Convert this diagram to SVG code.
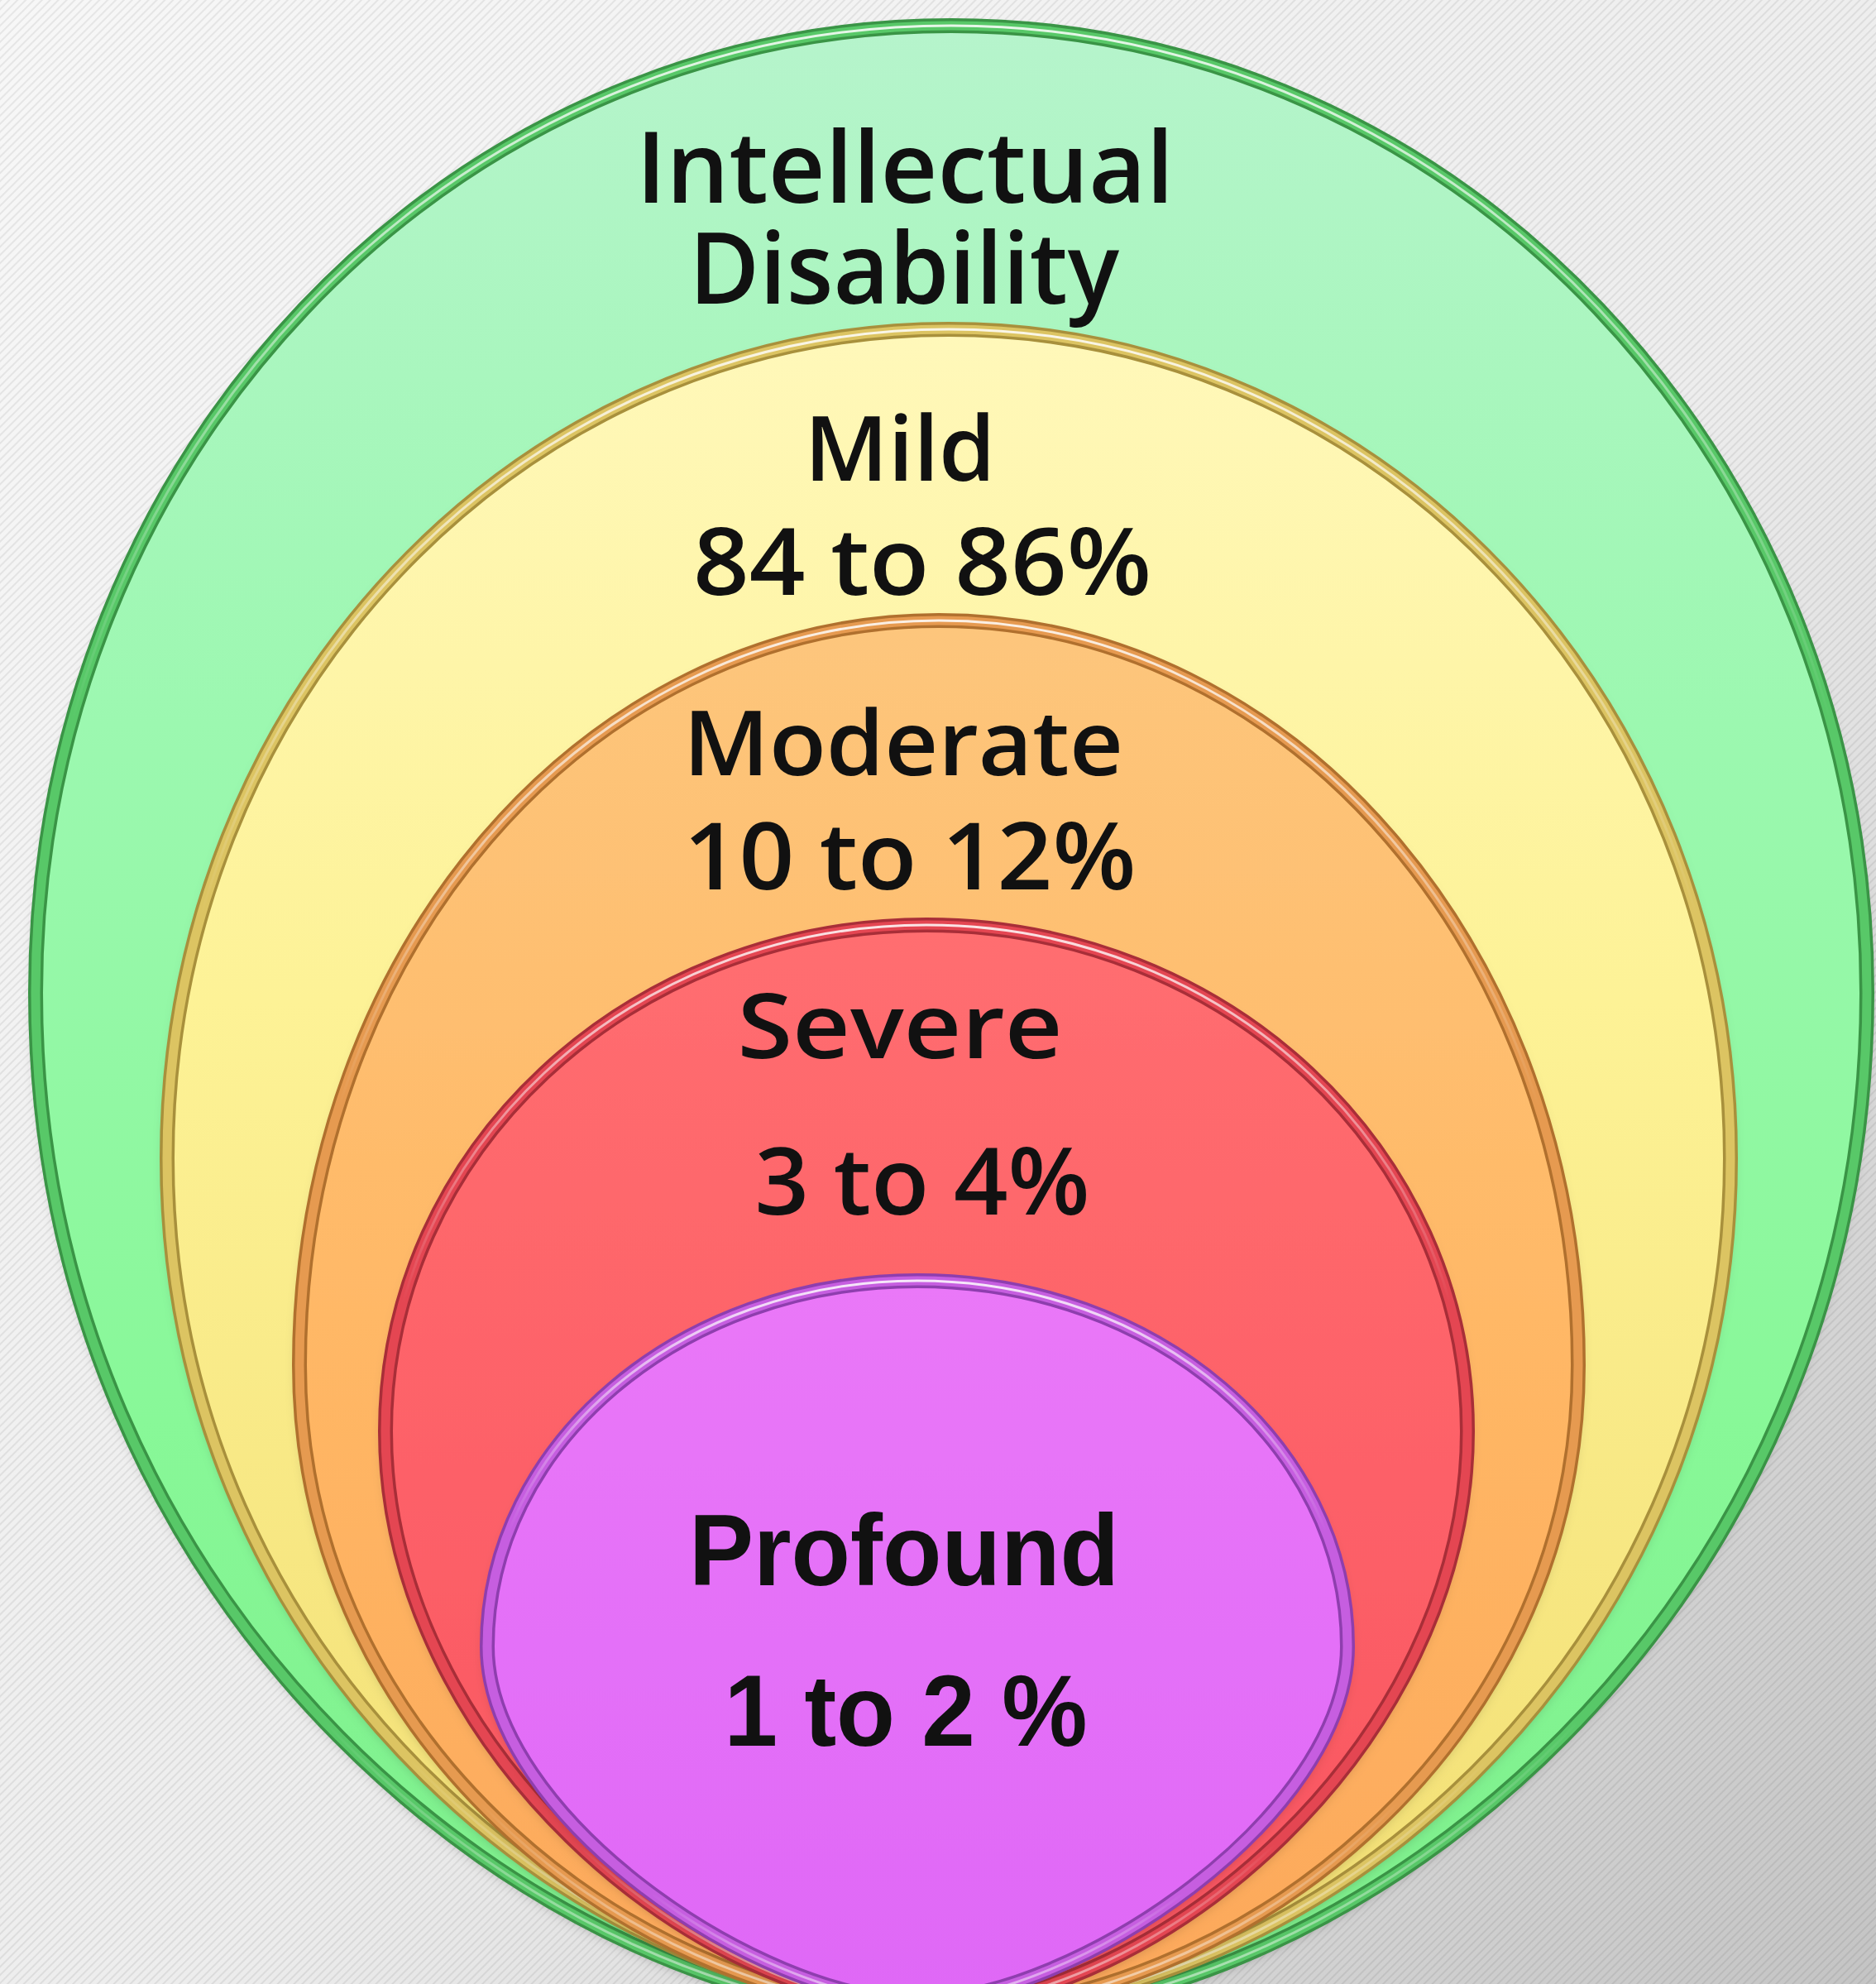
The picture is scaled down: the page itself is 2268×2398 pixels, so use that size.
<svg xmlns="http://www.w3.org/2000/svg" width="2268" height="2398" viewBox="0 0 2268 2398">
  <defs>
    <linearGradient id="bg" x1="0" y1="0" x2="1" y2="1">
      <stop offset="0" stop-color="#f7f7f7"/>
      <stop offset="0.55" stop-color="#ededed"/>
      <stop offset="1" stop-color="#c4c4c4"/>
    </linearGradient>
    <pattern id="stripes" patternUnits="userSpaceOnUse" width="7" height="7" patternTransform="rotate(45)">
      <line x1="1" y1="0" x2="1" y2="7" stroke="#000" stroke-opacity="0.07" stroke-width="2"/>
    </pattern>
    <linearGradient id="gGreen" x1="0" y1="0" x2="0" y2="1">
      <stop offset="0" stop-color="#b6f4cc"/>
      <stop offset="0.35" stop-color="#9cf8b0"/>
      <stop offset="0.7" stop-color="#88f898"/>
      <stop offset="1" stop-color="#7cee8a"/>
    </linearGradient>
    <linearGradient id="gYellow" x1="0" y1="0" x2="0" y2="1">
      <stop offset="0" stop-color="#fff8ba"/>
      <stop offset="0.4" stop-color="#fdf296"/>
      <stop offset="1" stop-color="#f2de72"/>
    </linearGradient>
    <linearGradient id="gOrange" x1="0" y1="0" x2="0" y2="1">
      <stop offset="0" stop-color="#fdc67c"/>
      <stop offset="0.5" stop-color="#ffb866"/>
      <stop offset="1" stop-color="#fca85a"/>
    </linearGradient>
    <linearGradient id="gRed" x1="0" y1="0" x2="0" y2="1">
      <stop offset="0" stop-color="#ff6e70"/>
      <stop offset="0.5" stop-color="#fd6168"/>
      <stop offset="1" stop-color="#f85460"/>
    </linearGradient>
    <linearGradient id="gPurple" x1="0" y1="0" x2="0" y2="1">
      <stop offset="0" stop-color="#ea78f8"/>
      <stop offset="0.5" stop-color="#e470f8"/>
      <stop offset="1" stop-color="#df68f6"/>
    </linearGradient>
    <linearGradient id="hl" x1="0" y1="0" x2="0" y2="1">
      <stop offset="0" stop-color="#ffffff" stop-opacity="0.85"/>
      <stop offset="0.35" stop-color="#ffffff" stop-opacity="0"/>
      <stop offset="0.85" stop-color="#ffffff" stop-opacity="0"/>
      <stop offset="1" stop-color="#ffffff" stop-opacity="0.6"/>
    </linearGradient>
    <filter id="shadow" x="-5%" y="-5%" width="110%" height="115%">
      <feDropShadow dx="0" dy="6" stdDeviation="8" flood-color="#000" flood-opacity="0.3"/>
    </filter>
    <path id="pGreen" d="M1150,31 C1761,31 2257,554 2257,1200 C2257,1944 1648,2440 1150,2440 C652,2440 43,1944 43,1200 C43,554 539,31 1150,31Z"/>
    <path id="pYellow" d="M1147,398 C1669,398 2092,847 2092,1400 C2092,2018 1572,2430 1147,2430 C722,2430 202,2018 202,1400 C202,847 625,398 1147,398Z"/>
    <path id="pOrange" d="M1135,750 C1562,750 1908,1153 1908,1650 C1908,2118 1483,2430 1135,2430 C787,2430 362,2118 362,1650 C362,1153 708,750 1135,750Z"/>
    <path id="pRed" d="M1120,1118 C1481,1118 1774,1392 1774,1730 C1774,2112 1395,2425 1120,2425 C845,2425 466,2112 466,1730 C466,1392 759,1118 1120,1118Z"/>
    <path id="pPurple" d="M1109,1548 C1396,1548 1629,1746 1629,1990 C1629,2195 1300,2418 1109,2418 C918,2418 589,2195 589,1990 C589,1746 822,1548 1109,1548Z"/>
  </defs>
  <style>
    .lbl { font-family: "Open Sans", "DejaVu Sans", sans-serif; font-weight: 600; fill: #111; text-anchor: middle; }
    .lbl2 { font-family: "Liberation Sans", Arial, sans-serif; font-weight: 700; fill: #111; text-anchor: middle; }
    .edgeDark { fill: none; stroke-width: 18; }
    .edgeMid { fill: none; stroke-width: 11; }
    .edgeHl { fill: none; stroke: url(#hl); stroke-width: 3; }
  </style>

  <g id="background">
    <rect x="0" y="0" width="2268" height="2398" fill="url(#bg)"/>
    <rect x="0" y="0" width="2268" height="2398" fill="url(#stripes)"/>
  </g>

  <g id="node-intellectual-disability">
    <g filter="url(#shadow)">
      <use href="#pGreen" fill="url(#gGreen)"/>
    </g>
    <use href="#pGreen" class="edgeDark" stroke="#3a9446"/>
    <use href="#pGreen" class="edgeMid" stroke="#58c868"/>
    <use href="#pGreen" class="edgeHl"/>
    <text class="lbl" x="1094" y="245" font-size="120" textLength="650" lengthAdjust="spacingAndGlyphs">Intellectual</text>
    <text class="lbl" x="1093" y="367" font-size="120" textLength="520" lengthAdjust="spacingAndGlyphs">Disability</text>
  </g>

  <g id="node-mild">
    <g filter="url(#shadow)">
      <use href="#pYellow" fill="url(#gYellow)"/>
    </g>
    <use href="#pYellow" class="edgeDark" stroke="#a8903c"/>
    <use href="#pYellow" class="edgeMid" stroke="#dcc462"/>
    <use href="#pYellow" class="edgeHl"/>
    <text class="lbl" x="1088" y="581" font-size="108" textLength="231" lengthAdjust="spacingAndGlyphs">Mild</text>
    <text class="lbl" x="1115" y="719" font-size="112" textLength="554" lengthAdjust="spacingAndGlyphs">84 to 86%</text>
  </g>

  <g id="node-moderate">
    <g filter="url(#shadow)">
      <use href="#pOrange" fill="url(#gOrange)"/>
    </g>
    <use href="#pOrange" class="edgeDark" stroke="#b0702e"/>
    <use href="#pOrange" class="edgeMid" stroke="#e69a50"/>
    <use href="#pOrange" class="edgeHl"/>
    <text class="lbl" x="1092" y="937" font-size="108" textLength="532" lengthAdjust="spacingAndGlyphs">Moderate</text>
    <text class="lbl" x="1100" y="1075" font-size="112" textLength="547" lengthAdjust="spacingAndGlyphs">10 to 12%</text>
  </g>

  <g id="node-severe">
    <g filter="url(#shadow)">
      <use href="#pRed" fill="url(#gRed)"/>
    </g>
    <use href="#pRed" class="edgeDark" stroke="#a82e38"/>
    <use href="#pRed" class="edgeMid" stroke="#e44652"/>
    <use href="#pRed" class="edgeHl"/>
    <text class="lbl" x="1088" y="1279" font-size="108" textLength="393" lengthAdjust="spacingAndGlyphs">Severe</text>
    <text class="lbl" x="1115" y="1468" font-size="112" textLength="405" lengthAdjust="spacingAndGlyphs">3 to 4%</text>
  </g>

  <g id="node-profound">
    <g filter="url(#shadow)">
      <use href="#pPurple" fill="url(#gPurple)"/>
    </g>
    <use href="#pPurple" class="edgeDark" stroke="#8e3eae"/>
    <use href="#pPurple" class="edgeMid" stroke="#c65ee0"/>
    <use href="#pPurple" class="edgeHl"/>
    <text class="lbl2" x="1093" y="1916" font-size="122" textLength="520" lengthAdjust="spacingAndGlyphs">Profound</text>
    <text class="lbl2" x="1095" y="2110" font-size="122" textLength="439" lengthAdjust="spacingAndGlyphs">1 to 2 %</text>
  </g>

  <g id="connectors"/>
</svg>
